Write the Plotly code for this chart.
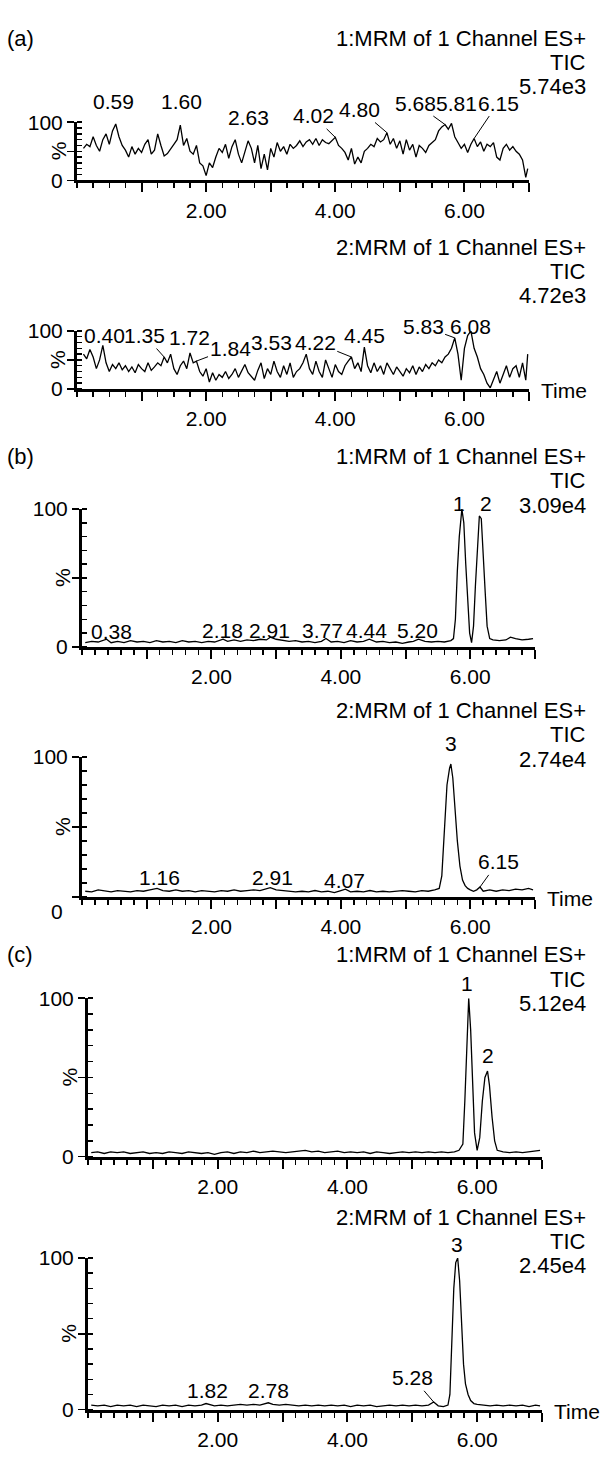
import plotly.graph_objects as go

W, H = 602, 1459
FONT = "Liberation Sans, Arial, sans-serif"
FS = 21        # tick / peak labels
FS_HEAD = 22   # header lines

# ---------------- data ----------------
time_a = [0.10, 0.15, 0.20, 0.25, 0.30, 0.35, 0.40, 0.45, 0.50, 0.55,
          0.60, 0.65, 0.70, 0.75, 0.80, 0.85, 0.90, 0.95, 1.00, 1.05,
          1.10, 1.15, 1.20, 1.25, 1.30, 1.35, 1.40, 1.45, 1.50, 1.55,
          1.60, 1.65, 1.70, 1.75, 1.80, 1.85, 1.90, 1.95, 2.00, 2.05,
          2.10, 2.15, 2.20, 2.25, 2.30, 2.35, 2.40, 2.45, 2.50, 2.55,
          2.60, 2.65, 2.70, 2.75, 2.80, 2.85, 2.90, 2.95, 3.00, 3.05,
          3.10, 3.15, 3.20, 3.25, 3.30, 3.35, 3.40, 3.45, 3.50, 3.55,
          3.60, 3.65, 3.70, 3.75, 3.80, 3.85, 3.90, 3.95, 4.00, 4.05,
          4.10, 4.15, 4.20, 4.25, 4.30, 4.35, 4.40, 4.45, 4.50, 4.55,
          4.60, 4.65, 4.70, 4.75, 4.80, 4.85, 4.90, 4.95, 5.00, 5.05,
          5.10, 5.15, 5.20, 5.25, 5.30, 5.35, 5.40, 5.45, 5.50, 5.55,
          5.60, 5.65, 5.70, 5.75, 5.80, 5.85, 5.90, 5.95, 6.00, 6.05,
          6.10, 6.15, 6.20, 6.25, 6.30, 6.35, 6.40, 6.45, 6.50, 6.55,
          6.60, 6.65, 6.70, 6.75, 6.80, 6.85, 6.90, 6.95, 6.98]

a1_int = [55, 62, 58, 75, 60, 50, 70, 80, 62, 85,
          97, 75, 60, 52, 40, 58, 45, 55, 48, 62,
          70, 45, 52, 80, 60, 42, 46, 55, 62, 70,
          95, 60, 72, 50, 45, 60, 30, 25, 8, 30,
          22, 40, 55, 48, 62, 38, 58, 70, 45, 30,
          50, 68, 55, 30, 60, 20, 45, 18, 55, 40,
          65, 50, 58, 45, 62, 55, 60, 68, 58, 66,
          70, 62, 72, 60, 70, 65, 63, 68, 74, 60,
          55, 48, 35, 55, 28, 40, 30, 50, 55, 62,
          58, 72, 66, 70, 82, 62, 72, 55, 68, 45,
          70, 52, 62, 40, 60, 55, 48, 60, 65, 70,
          85, 92, 96, 88, 98, 75, 65, 55, 62, 48,
          62, 72, 58, 66, 50, 62, 58, 65, 40, 35,
          55, 62, 52, 58, 50, 45, 35, 5, 20]

a2_int = [60, 52, 68, 55, 35, 50, 75, 45, 30, 42,
          35, 45, 33, 40, 30, 38, 28, 42, 35, 30,
          45, 32, 38, 45, 40, 55, 45, 60, 35, 25,
          40, 48, 35, 62, 45, 48, 30, 22, 35, 12,
          28, 15, 25, 20, 30, 18, 25, 35, 20, 30,
          42, 28, 22, 15, 32, 45, 18, 35, 25, 48,
          30, 20, 40, 25, 45, 20, 30, 35, 45, 60,
          35, 25, 48, 30, 20, 50, 35, 20, 42, 30,
          25, 40, 48, 55, 35, 45, 30, 72, 40, 28,
          45, 30, 40, 25, 45, 35, 25, 38, 30, 22,
          35, 28, 40, 25, 38, 30, 42, 35, 45, 40,
          50, 45, 55, 60, 70, 88, 60, 15, 70, 92,
          100, 70, 55, 35, 25, 10, 2, 15, 30, 10,
          25, 40, 20, 35, 40, 20, 45, 15, 60]

b1_time = [0.05, 0.15, 0.25, 0.38, 0.45, 0.55, 0.65, 0.75, 0.85, 0.95,
           1.05, 1.15, 1.25, 1.35, 1.45, 1.55, 1.65, 1.75, 1.85, 1.95,
           2.05, 2.18, 2.25, 2.35, 2.45, 2.55, 2.65, 2.75, 2.85, 2.91,
           3.00, 3.10, 3.20, 3.30, 3.40, 3.50, 3.60, 3.70, 3.77, 3.85,
           3.95, 4.05, 4.15, 4.25, 4.35, 4.44, 4.55, 4.65, 4.75, 4.85,
           4.95, 5.05, 5.12, 5.20, 5.30, 5.40, 5.50, 5.60, 5.70, 5.74,
           5.77, 5.80, 5.83, 5.87, 5.90, 5.93, 5.96, 5.99, 6.02, 6.05,
           6.08, 6.11, 6.14, 6.17, 6.20, 6.23, 6.26, 6.30, 6.35, 6.45,
           6.55, 6.62, 6.70, 6.80, 6.90, 6.97]
b1_int = [3, 4, 3.5, 5.5, 3, 4, 3, 4.5, 3.5, 4,
          3, 4.5, 3.5, 4, 3, 4.5, 3.5, 4, 3, 4,
          3.5, 5.5, 4, 5, 4, 5, 4.5, 5.5, 5, 7,
          5.5, 5, 4, 4.5, 3.5, 4, 3, 4, 6, 3.5,
          4, 3, 4.5, 3.5, 4, 5.5, 3.5, 4, 3, 3.5,
          2.5, 3.5, 4, 5.5, 4, 3.5, 4, 3.5, 4.5, 6,
          20, 55, 80, 100, 90, 60, 30, 10, 3, 15,
          45, 75, 95, 93, 70, 40, 15, 6, 5, 4.5,
          5, 7, 6, 5, 5.5, 6]

b2_time = [0.05, 0.15, 0.25, 0.35, 0.45, 0.55, 0.65, 0.75, 0.85, 0.95,
           1.05, 1.16, 1.25, 1.35, 1.45, 1.55, 1.65, 1.75, 1.85, 1.95,
           2.05, 2.15, 2.25, 2.35, 2.45, 2.55, 2.65, 2.75, 2.85, 2.91,
           3.00, 3.10, 3.20, 3.30, 3.40, 3.50, 3.60, 3.70, 3.80, 3.90,
           4.00, 4.07, 4.15, 4.25, 4.35, 4.45, 4.55, 4.65, 4.75, 4.85,
           4.95, 5.05, 5.15, 5.25, 5.35, 5.45, 5.52, 5.56, 5.60, 5.64,
           5.68, 5.70, 5.73, 5.76, 5.80, 5.84, 5.88, 5.92, 5.96, 6.00,
           6.05, 6.10, 6.15, 6.20, 6.30, 6.40, 6.50, 6.60, 6.70, 6.80,
           6.90, 6.97]
b2_int = [4, 3.5, 5, 4, 3.5, 4.5, 4, 3.5, 4.5, 4,
          5, 6, 4.5, 4, 5, 4, 4.5, 3.5, 4.5, 4,
          3.5, 4.5, 4, 5, 4, 4.5, 5, 4.5, 5.5, 6.5,
          5, 4.5, 4, 3.5, 4, 3.5, 4.5, 3.5, 4, 3,
          4.5, 5.5, 3.5, 4, 3.5, 4.5, 3.5, 4, 3.5, 4,
          4.5, 4, 3.5, 4.5, 4, 5, 6, 15, 45, 80,
          92, 95, 85, 65, 40, 22, 12, 8, 6, 5,
          4, 5, 7, 4, 5, 4, 5, 4.5, 5.5, 5,
          6, 5]

c1_time = [0.05, 0.15, 0.25, 0.35, 0.45, 0.55, 0.65, 0.75, 0.85, 0.95,
           1.05, 1.15, 1.25, 1.35, 1.45, 1.55, 1.65, 1.75, 1.85, 1.95,
           2.05, 2.15, 2.25, 2.35, 2.45, 2.55, 2.65, 2.75, 2.85, 2.95,
           3.05, 3.15, 3.25, 3.35, 3.45, 3.55, 3.65, 3.75, 3.85, 3.95,
           4.05, 4.15, 4.25, 4.35, 4.45, 4.55, 4.65, 4.75, 4.85, 4.95,
           5.05, 5.15, 5.25, 5.35, 5.45, 5.55, 5.65, 5.72, 5.78, 5.81,
           5.84, 5.87, 5.90, 5.93, 5.96, 6.00, 6.04, 6.08, 6.12, 6.16,
           6.19, 6.23, 6.27, 6.31, 6.40, 6.50, 6.60, 6.70, 6.80, 6.90,
           6.97]
c1_int = [2.5, 3, 2, 3, 2.5, 3, 2, 2.5, 3, 2,
          2.5, 2, 3, 2.5, 2, 3, 2.5, 2, 2.5, 1.5,
          2.5, 3, 2, 3, 2.5, 3.5, 2.5, 3, 3.5, 3,
          2.5, 3, 3.5, 4, 3, 3.5, 2.5, 3, 3.5, 2.5,
          3, 2.5, 3, 2, 3, 2.5, 2, 2.5, 3, 2.5,
          3, 2.5, 3, 2.5, 3, 2.5, 3, 4, 8, 35,
          75, 100, 80, 45, 15, 4, 12, 35, 50, 54,
          45, 25, 10, 4, 3, 2.5, 3, 2.5, 3, 3.5,
          4]

c2_time = [0.05, 0.15, 0.25, 0.35, 0.45, 0.55, 0.65, 0.75, 0.85, 0.95,
           1.05, 1.15, 1.25, 1.35, 1.45, 1.55, 1.65, 1.75, 1.82, 1.95,
           2.05, 2.15, 2.25, 2.35, 2.45, 2.55, 2.65, 2.78, 2.85, 2.95,
           3.05, 3.15, 3.25, 3.35, 3.45, 3.55, 3.65, 3.75, 3.85, 3.95,
           4.05, 4.15, 4.25, 4.35, 4.45, 4.55, 4.65, 4.75, 4.85, 4.95,
           5.05, 5.15, 5.25, 5.33, 5.40, 5.48, 5.55, 5.58, 5.61, 5.64,
           5.67, 5.70, 5.73, 5.76, 5.79, 5.82, 5.86, 5.90, 5.95, 6.00,
           6.10, 6.20, 6.30, 6.40, 6.50, 6.60, 6.70, 6.80, 6.90, 6.97]
c2_int = [3, 2.5, 3, 2, 3, 2.5, 3, 2, 3, 2.5,
          2, 3, 2.5, 3, 2, 3, 2.5, 3, 4, 2.5,
          3, 2.5, 3, 3.5, 3, 3.5, 3, 4.5, 3.5, 3,
          3.5, 3, 2.5, 3, 2.5, 3, 2.5, 3, 2.5, 3,
          2, 3, 2.5, 3, 2, 2.5, 3, 2.5, 3, 2.5,
          3, 2.5, 3, 5, 2.5, 2, 3, 10, 40, 80,
          97, 100, 85, 55, 30, 17, 10, 6, 4, 3.5,
          3, 2.5, 3, 2.5, 3, 2.5, 3, 2, 3, 2.5]

# header texts
channel_titles = ["1:MRM of 1 Channel ES+", "2:MRM of 1 Channel ES+",
                  "1:MRM of 1 Channel ES+", "2:MRM of 1 Channel ES+",
                  "1:MRM of 1 Channel ES+", "2:MRM of 1 Channel ES+"]
intensity_max = ["5.74e3", "4.72e3", "3.09e4", "2.74e4", "5.12e4", "2.45e4"]
panel_letters = {0: "(a)", 2: "(b)", 4: "(c)"}

# peak labels: (text, peak time, peak %, label time, label %, leader line)
a1_labels = [("0.59", 0.60, 97, 0.57, 136, False), ("1.60", 1.60, 95, 1.62, 136, False),
             ("2.63", 2.65, 68, 2.66, 108, False), ("4.02", 4.00, 74, 3.66, 111, True),
             ("4.80", 4.80, 82, 4.38, 122, True), ("5.68", 5.70, 96, 5.24, 133, True),
             ("5.81", 5.80, 98, 5.88, 133, False), ("6.15", 6.15, 72, 6.52, 133, True)]
a2_labels = [("0.40", 0.40, 75, 0.42, 92, False), ("1.35", 1.35, 55, 1.05, 92, True),
             ("1.72", 1.75, 62, 1.74, 89, False), ("1.84", 1.85, 48, 2.37, 70, True),
             ("3.53", 3.55, 60, 3.01, 80, False), ("4.22", 4.25, 55, 3.69, 80, True),
             ("4.45", 4.45, 72, 4.46, 92, False), ("5.83", 5.85, 88, 5.36, 108, True),
             ("6.08", 6.10, 100, 6.09, 108, False)]
b1_labels = [("0.38", 0.38, 5.5, 0.45, 11, False), ("2.18", 2.18, 5.5, 2.17, 12, False),
             ("2.91", 2.91, 7, 2.89, 12, False), ("3.77", 3.77, 6, 3.72, 12, False),
             ("4.44", 4.44, 5.5, 4.40, 12, False), ("5.20", 5.20, 5.5, 5.18, 12, False),
             ("1", 5.87, 100, 5.83, 104, False), ("2", 6.14, 95, 6.25, 104, False)]
b2_labels = [("1.16", 1.16, 6, 1.19, 13.5, False), ("2.91", 2.91, 6.5, 2.95, 13.5, False),
             ("4.07", 4.07, 5.5, 4.05, 12, False), ("3", 5.70, 95, 5.70, 110, False),
             ("6.15", 6.15, 7, 6.43, 25, True)]
c1_labels = [("1", 5.87, 100, 5.84, 109, False), ("2", 6.16, 54, 6.16, 64, False)]
c2_labels = [("1.82", 1.82, 4, 1.84, 12.5, False), ("2.78", 2.78, 4.5, 2.79, 12.5, False),
             ("5.28", 5.33, 5, 5.01, 21, True), ("3", 5.70, 100, 5.69, 109, False)]

series = [(time_a, a1_int, a1_labels), (time_a, a2_int, a2_labels),
          (b1_time, b1_int, b1_labels), (b2_time, b2_int, b2_labels),
          (c1_time, c1_int, c1_labels), (c2_time, c2_int, c2_labels)]

# ---------------- layout (pixel geometry of each panel) ----------------
panels = [
    dict(xl=77, xr=529, y100=112, y0=171, ty=27, minor=0.25, time=False),
    dict(xl=77, xr=529, y100=324, y0=383, ty=239, minor=0.25, time=True),
    dict(xl=82, xr=535, y100=505, y0=645, ty=452, minor=0.2, time=False),
    dict(xl=82, xr=535, y100=757, y0=899, ty=710, minor=0.2, time=True, low_zero=True),
    dict(xl=88, xr=542, y100=1002, y0=1163, ty=958, minor=0.2, time=False),
    dict(xl=88, xr=542, y100=1266, y0=1420, ty=1225, minor=0.2, time=True),
]
LINE_GAP = 24.5


def py(p):
    return 1 - p / H


fig = go.Figure()
annotations = []
layout = {}
tf = dict(family=FONT, size=FS, color="black")
hf = dict(family=FONT, size=FS_HEAD, color="black")
for i, (p, (t, v, labels)) in enumerate(zip(panels, series)):
    sfx = "" if i == 0 else str(i + 1)
    xa, ya = "x" + sfx, "y" + sfx
    fig.add_trace(go.Scatter(x=t, y=v, mode="lines", xaxis=xa, yaxis=ya,
                             line=dict(color="black", width=1.3),
                             showlegend=False, hoverinfo="skip"))
    low_zero = p.get("low_zero", False)
    layout["xaxis" + sfx] = dict(
        domain=[p["xl"] / W, p["xr"] / W], anchor=ya, range=[0, 7],
        showline=True, linewidth=3, linecolor="black", mirror=False,
        showgrid=False, zeroline=False,
        tickmode="array", tickvals=[1, 2, 3, 4, 5, 6, 7],
        ticktext=["", "2.00", "", "4.00", "", "6.00", ""],
        ticks="outside", ticklen=9, tickwidth=2, tickcolor="black",
        tickfont=tf,
        minor=dict(dtick=p["minor"], tick0=0, ticks="outside", ticklen=5,
                   tickwidth=1.5, tickcolor="black"),
        fixedrange=True)
    layout["yaxis" + sfx] = dict(
        domain=[py(p["y0"]), py(p["y100"])], anchor=xa, range=[0, 100],
        showline=True, linewidth=3, linecolor="black",
        showgrid=False, zeroline=False,
        tickmode="array", tickvals=[0, 50, 100],
        ticktext=["" if low_zero else "0", "", "100"],
        ticks="outside", ticklen=7, tickwidth=1.5, tickcolor="black",
        tickfont=tf,
        minor=dict(dtick=10, tick0=0, ticks="inside", ticklen=5,
                   tickwidth=1.5, tickcolor="black"),
        fixedrange=True)

    for k, txt in enumerate([channel_titles[i], "TIC", intensity_max[i]]):
        annotations.append(dict(text=txt, xref="paper", yref="paper", x=588 / W,
                                y=py(p["ty"] + k * LINE_GAP), xanchor="right",
                                yanchor="middle", showarrow=False, font=hf))
    if i in panel_letters:
        annotations.append(dict(text=panel_letters[i], xref="paper", yref="paper",
                                x=5 / W, y=py(p["ty"]), xanchor="left",
                                yanchor="middle", showarrow=False, font=hf))
    annotations.append(dict(text="%", xref=xa + " domain", yref=ya, x=0, y=50,
                            xshift=-19, textangle=-90, showarrow=False,
                            xanchor="center", yanchor="middle", font=tf))
    if low_zero:
        annotations.append(dict(text="0", xref=xa + " domain", yref=ya, x=0, y=0,
                                xshift=-17, yshift=-15, showarrow=False,
                                xanchor="right", yanchor="middle", font=tf))
    if p["time"]:
        annotations.append(dict(text="Time", xref=xa + " domain", yref=ya, x=1, y=0,
                                xshift=10, yshift=-2, showarrow=False,
                                xanchor="left", yanchor="middle", font=tf))
    for (txt, pt, pv, lt, lv, leader) in labels:
        annotations.append(dict(text=txt, xref=xa, yref=ya, x=pt, y=pv,
                                axref=xa, ayref=ya, ax=lt, ay=lv,
                                showarrow=True, arrowhead=0, arrowwidth=1,
                                arrowcolor="black" if leader else "rgba(0,0,0,0)",
                                font=tf))

fig.update_layout(width=W, height=H, margin=dict(l=0, r=0, t=0, b=0),
                  autosize=False, paper_bgcolor="white", plot_bgcolor="white",
                  annotations=annotations, **layout)
fig.write_html("out.html", config={"displayModeBar": False, "staticPlot": True},
               post_script="document.body.style.margin='0';"
                           "document.body.style.overflow='hidden';")
